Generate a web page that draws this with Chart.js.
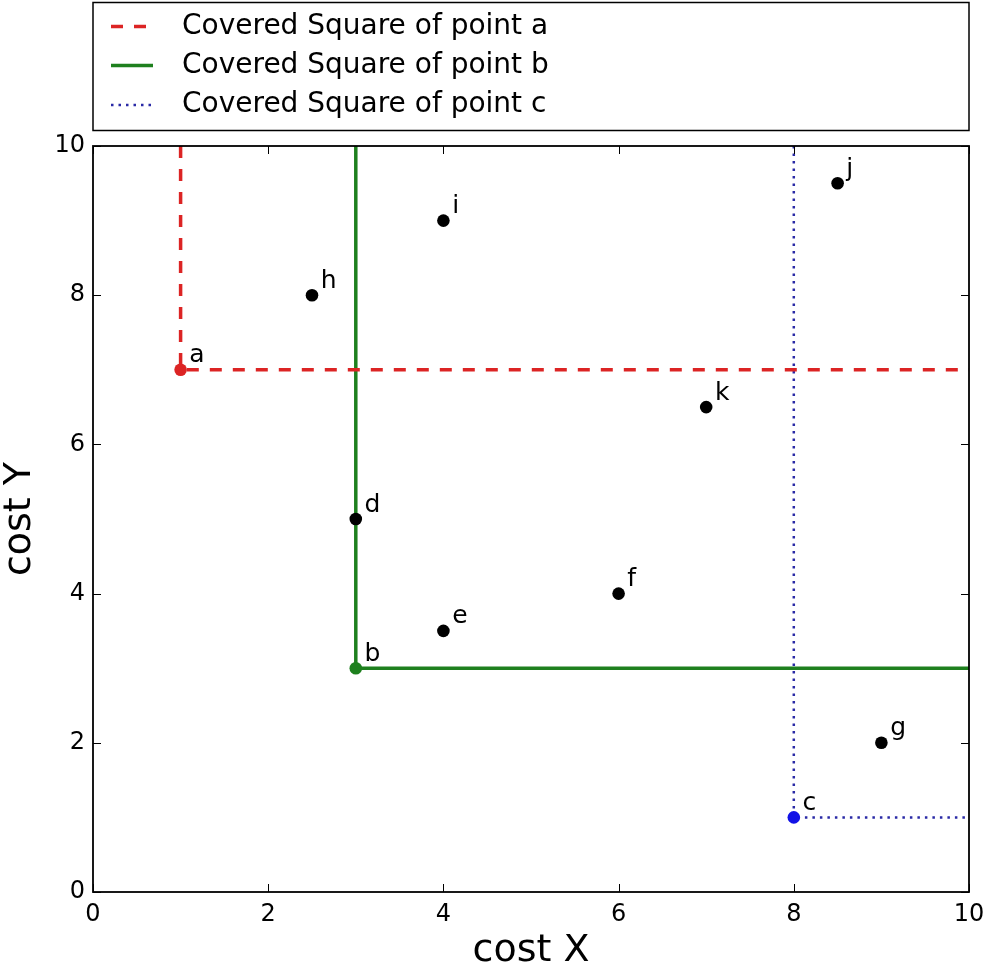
<!DOCTYPE html>
<html><head><meta charset="utf-8">
<script src="https://cdn.jsdelivr.net/npm/chart.js@4"></script>
<style>html,body{margin:0;padding:0;background:#fff}#wrap{width:985px;height:970px}</style>
</head><body><div id="wrap"><canvas id="c" width="985" height="970"></canvas></div>
<script>
// ---- data ----
const pointNames = ['a','b','c','d','e','f','g','h','i','j','k'];
const pointX = [1, 3, 8, 3, 4, 6, 9, 2.5, 4, 8.5, 7];
const pointY = [7, 3, 1, 5, 3.5, 4, 2, 8, 9, 9.5, 6.5];
const squareAX = [1, 1, 10];
const squareAY = [10, 7, 7];
const squareBX = [3, 3, 10];
const squareBY = [10, 3, 3];
const squareCX = [8, 8, 10];
const squareCY = [10, 1, 1];
const legendLabels = ['Covered Square of point a', 'Covered Square of point b', 'Covered Square of point c'];
const tickValues = [0, 2, 4, 6, 8, 10];
const axisTitles = ['cost X', 'cost Y'];

// ---- styles ----
const FONT = 'DejaVu Sans';
const RED = '#dc2424', GREEN = '#1e801e', BLUE = '#2a2aa6', BLUE_PT = '#1212e6';
const pointColors = pointNames.map((n, i) => i === 0 ? RED : i === 1 ? GREEN : i === 2 ? BLUE_PT : '#000');
const toXY = (xs, ys) => xs.map((x, i) => ({x: x, y: ys[i]}));

const lineStyles = [
  {color: RED, dash: [12, 11], width: 3.5},
  {color: GREEN, dash: [], width: 3.5},
  {color: BLUE, dash: [2.5, 5], width: 2.5}
];

const framePlugin = {
  id: 'frame',
  afterDatasetsDraw(chart) {
    const ctx = chart.ctx, a = chart.chartArea;
    const xs = chart.scales.x, ys = chart.scales.y;
    ctx.save();
    // point labels
    ctx.fillStyle = '#000';
    ctx.font = '25px "' + FONT + '"';
    ctx.textAlign = 'left';
    ctx.textBaseline = 'alphabetic';
    pointNames.forEach((n, i) => {
      ctx.fillText(n, xs.getPixelForValue(pointX[i] + 0.1), ys.getPixelForValue(pointY[i] + 0.1));
    });
    // ticks inward
    ctx.strokeStyle = '#000';
    ctx.lineWidth = 1;
    ctx.setLineDash([]);
    const tl = 8;
    tickValues.forEach(v => {
      const px = Math.round(xs.getPixelForValue(v)) + 0.5;
      const py = Math.round(ys.getPixelForValue(v)) + 0.5;
      ctx.beginPath();
      ctx.moveTo(px, a.bottom); ctx.lineTo(px, a.bottom - tl);
      ctx.moveTo(px, a.top); ctx.lineTo(px, a.top + tl);
      ctx.moveTo(a.left, py); ctx.lineTo(a.left + tl, py);
      ctx.moveTo(a.right, py); ctx.lineTo(a.right - tl, py);
      ctx.stroke();
    });
    // frame
    ctx.lineWidth = 1.8;
    ctx.strokeRect(a.left, a.top, a.right - a.left, a.bottom - a.top);
    ctx.restore();
  },
  afterDraw(chart) {
    const ctx = chart.ctx, a = chart.chartArea;
    ctx.save();
    ctx.strokeStyle = '#000';
    ctx.lineWidth = 1.5;
    ctx.setLineDash([]);
    ctx.strokeRect(a.left, 2.5, a.right - a.left, 128);
    const rows = [26.5, 65.5, 105];
    legendLabels.forEach((lab, i) => {
      const st = lineStyles[i];
      ctx.strokeStyle = st.color;
      ctx.lineWidth = st.width;
      ctx.setLineDash(st.dash);
      ctx.beginPath();
      ctx.moveTo(111, rows[i]); ctx.lineTo(153, rows[i]);
      ctx.stroke();
      ctx.setLineDash([]);
      ctx.fillStyle = '#000';
      ctx.font = '28px "' + FONT + '"';
      ctx.textAlign = 'left';
      ctx.textBaseline = 'middle';
      ctx.fillText(lab, 182, rows[i]);
    });
    ctx.restore();
  }
};

const lineDs = (xs, ys, st, lab) => ({
  label: lab, type: 'line', data: toXY(xs, ys), showLine: true,
  borderColor: st.color, borderWidth: st.width, borderDash: st.dash,
  pointRadius: 0, fill: false, tension: 0, borderCapStyle: 'butt', borderJoinStyle: 'miter'
});

const axisCommon = (title, pad) => ({
  type: 'linear', min: 0, max: 10,
  afterBuildTicks: s => { s.ticks = tickValues.map(v => ({value: v})); },
  ticks: {font: {family: FONT, size: 24}, color: '#000', padding: 8, maxRotation: 0},
  grid: {display: false, drawTicks: false},
  border: {display: false},
  title: {display: true, text: title, color: '#000', font: {family: FONT, size: 38, lineHeight: 1}, padding: pad}
});

const xAxis = axisCommon(axisTitles[0], {top: 0, bottom: 0});
xAxis.afterFit = s => { s.height = 78; s.paddingLeft = 0; s.paddingRight = 0; };
const yAxis = axisCommon(axisTitles[1], {top: 1, bottom: 0});
yAxis.afterFit = s => { s.width = 93; s.paddingTop = 0; s.paddingBottom = 0; };
yAxis.ticks.padding = 8;

new Chart(document.getElementById('c'), {
  type: 'scatter',
  data: {
    datasets: [
      {label: 'points', data: toXY(pointX, pointY), pointRadius: 6.3, pointHoverRadius: 6.3,
       pointBackgroundColor: pointColors, pointBorderColor: pointColors, pointBorderWidth: 0, showLine: false},
      lineDs(squareAX, squareAY, lineStyles[0], legendLabels[0]),
      lineDs(squareBX, squareBY, lineStyles[1], legendLabels[1]),
      lineDs(squareCX, squareCY, lineStyles[2], legendLabels[2])
    ]
  },
  options: {
    responsive: false, animation: false, devicePixelRatio: 1,
    layout: {padding: {top: 146, right: 16, left: 0, bottom: 0}},
    plugins: {legend: {display: false}, tooltip: {enabled: false}},
    scales: {x: xAxis, y: yAxis}
  },
  plugins: [framePlugin]
});
</script>
</body></html>
